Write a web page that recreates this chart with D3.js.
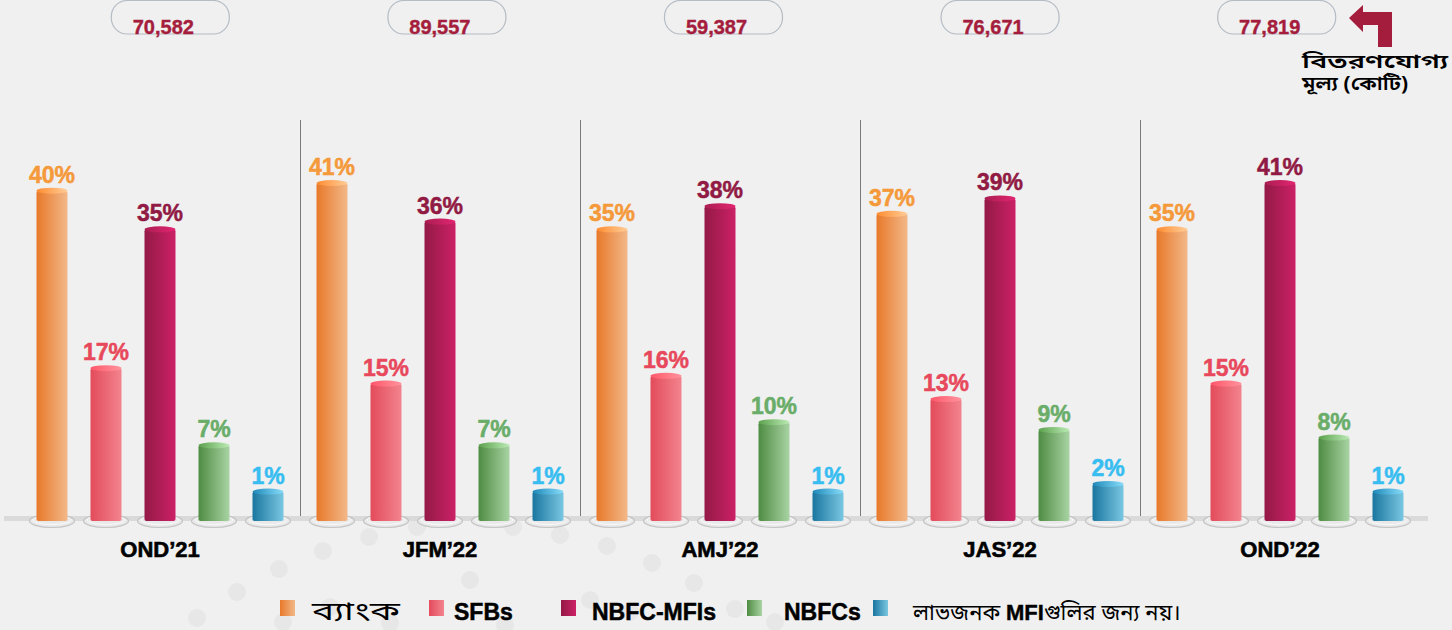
<!DOCTYPE html>
<html>
<head>
<meta charset="utf-8">
<script src="https://cdn.jsdelivr.net/npm/d3@7"></script>
<style>
  html, body { margin: 0; padding: 0; background: #f0f0f0; }
  text { font-family: "Liberation Sans", Arial, sans-serif; }
  .bn { font-family: "Noto Sans Bengali", "Noto Sans", "Lohit Bengali", sans-serif; }
</style>
</head>
<body>
<div id="chart"></div>
<script>
// quarters and disbursement totals (crore)
var categories = ["OND\u201921", "JFM\u201922", "AMJ\u201922", "JAS\u201922", "OND\u201922"];
var totals = ["70,582", "89,557", "59,387", "76,671", "77,819"];

// share of each lender type, %
var seriesNames = ["ব্যাংক", "SFBs", "NBFC-MFIs", "NBFCs", "লাভজনক MFIগুলির জন্য নয়।"];
var bank = [40, 41, 35, 37, 35];
var sfb = [17, 15, 16, 13, 15];
var nbfcMfi = [35, 36, 38, 39, 41];
var nbfc = [7, 7, 10, 9, 8];
var notForProfit = [1, 1, 1, 2, 1];

var series = [bank, sfb, nbfcMfi, nbfc, notForProfit];

var colors = [
  {dark: "#e8792a", light: "#f2b889", label: "#f5993a"},
  {dark: "#e34b5b", light: "#f2848e", label: "#e8485c"},
  {dark: "#931946", light: "#cc2166", label: "#901a43"},
  {dark: "#4f8c43", light: "#a9d3a3", label: "#69ad69"},
  {dark: "#1a76a0", light: "#7ac7e1", label: "#37bdf0"}
];

var width = 1452, height = 630;
var baseY = 521;

var svg = d3.select("#chart").append("svg")
  .attr("width", width)
  .attr("height", height);

var defs = svg.append("defs");
colors.forEach(function(c, i) {
  var g = defs.append("linearGradient").attr("id", "grad" + i)
    .attr("x1", "0%").attr("x2", "100%").attr("y1", "0%").attr("y2", "0%");
  g.append("stop").attr("offset", "0%").attr("stop-color", c.dark);
  g.append("stop").attr("offset", "100%").attr("stop-color", c.light);
  var t = defs.append("linearGradient").attr("id", "cap" + i)
    .attr("x1", "0%").attr("x2", "100%");
  t.append("stop").attr("offset", "0%").attr("stop-color", d3.color(c.dark).brighter(0.4));
  t.append("stop").attr("offset", "100%").attr("stop-color", d3.color(c.light).brighter(0.3));
});

// faint background dots
var dots = [[197,618],[237,592],[279,569],[323,551],[369,537],[417,527],[560,535],[607,546],
  [652,563],[694,583],[735,609],[390,623],[513,527],[283,622],[330,607],[630,612],[590,600],[775,622],[470,580],[505,625]];
svg.append("g").selectAll("circle").data(dots).enter().append("circle")
  .attr("cx", function(d) { return d[0]; })
  .attr("cy", function(d) { return d[1]; })
  .attr("r", 9)
  .style("fill", "#e7e7e7");

// scales
var x0 = d3.scaleBand().domain(categories).range([20, 1420]);
var x1 = d3.scalePoint().domain(d3.range(5)).range([-108, 108]);
var barW = 31;
var y = d3.scaleLinear().domain([-3.2, 41]).range([baseY, 180]);

// separators
svg.append("g").selectAll("line").data(categories.slice(1)).enter().append("line")
  .attr("x1", function(d) { return x0(d) + 0.5; })
  .attr("x2", function(d) { return x0(d) + 0.5; })
  .attr("y1", 120).attr("y2", 517)
  .style("stroke", "#7a7a7a").style("stroke-width", 1);

// baseline floor
svg.append("rect")
  .attr("x", 4).attr("y", 516).attr("width", 1424).attr("height", 5)
  .style("fill", "#dadada");

// top boxes with totals
var xBox = d3.scaleBand().domain(categories).range([32, 1415]);
var boxes = svg.append("g").selectAll("g").data(categories).enter().append("g");
boxes.append("rect")
  .attr("x", function(d) { return xBox(d) + xBox.bandwidth() / 2 - 59; })
  .attr("y", 0.5).attr("width", 118).attr("height", 33.5).attr("rx", 16)
  .style("fill", "none").style("stroke", "#b4bcc4").style("stroke-width", 1.2);
boxes.append("text")
  .attr("x", function(d) { return xBox(d) + xBox.bandwidth() / 2 - 7; })
  .attr("y", 34)
  .attr("text-anchor", "middle")
  .style("font-size", "20px").style("font-weight", "bold").style("fill", "#a51d3d")
  .style("stroke", "#a51d3d").style("stroke-width", 0.4)
  .text(function(d, i) { return totals[i]; });

// bars
var groups = svg.append("g").selectAll("g").data(categories).enter().append("g")
  .attr("transform", function(d) { return "translate(" + (x0(d) + x0.bandwidth() / 2) + ",0)"; });

series.forEach(function(vals, s) {
  var cx = x1(s);
  // plate under bar
  groups.append("ellipse")
    .attr("cx", cx).attr("cy", baseY).attr("rx", 22.5).attr("ry", 6.5)
    .style("fill", "#e9e9e9").style("stroke", "#c4c4c4").style("stroke-width", 1.2);
  groups.append("ellipse")
    .attr("cx", cx).attr("cy", baseY - 1).attr("rx", 19).attr("ry", 4.5)
    .style("fill", "none").style("stroke", "#fafafa").style("stroke-width", 1);
  groups.append("rect")
    .attr("x", cx - barW / 2)
    .attr("y", function(d, i) { return y(vals[i]) + 3; })
    .attr("width", barW)
    .attr("height", function(d, i) { return baseY - y(vals[i]) - 3; })
    .attr("rx", 2)
    .style("fill", "url(#grad" + s + ")");
  groups.append("ellipse")
    .attr("cx", cx)
    .attr("cy", function(d, i) { return y(vals[i]) + 3; })
    .attr("rx", barW / 2).attr("ry", 3)
    .style("fill", "url(#cap" + s + ")");
  groups.append("text")
    .attr("x", cx)
    .attr("y", function(d, i) { return y(vals[i]) - 5; })
    .attr("text-anchor", "middle")
    .style("font-size", "23px").style("font-weight", "bold")
    .style("fill", colors[s].label)
    .style("stroke", colors[s].label).style("stroke-width", 0.5)
    .text(function(d, i) { return vals[i] + "%"; });
});

// category labels
groups.append("text")
  .attr("x", 0).attr("y", 557)
  .attr("text-anchor", "middle")
  .style("font-size", "22px").style("font-weight", "bold").style("fill", "#000")
  .style("stroke", "#000").style("stroke-width", 0.6)
  .text(function(d) { return d; });

// arrow + annotation
svg.append("path")
  .attr("d", "M1349,18 L1363,5 L1363,12 L1392,12 L1392,47 L1378,47 L1378,25 L1363,25 L1363,32 Z")
  .style("fill", "#a51d3d");
var ann = svg.append("g");
ann.append("text").attr("class", "bn").attr("x", 1302).attr("y", 68)
  .attr("textLength", 146).attr("lengthAdjust", "spacingAndGlyphs")
  .style("font-size", "19px").style("font-weight", "600").text("বিতরণযোগ্য");
ann.append("text").attr("class", "bn").attr("x", 1302).attr("y", 90)
  .attr("textLength", 106).attr("lengthAdjust", "spacingAndGlyphs")
  .style("font-size", "19px").style("font-weight", "600").text("মূল্য (কোটি)");

// legend
var legendX = [280, 429, 561, 747, 873];
var textGap = [32, 25, 31, 37, 40];
var legend = svg.append("g");
seriesNames.forEach(function(name, i) {
  legend.append("rect")
    .attr("x", legendX[i]).attr("y", 600).attr("width", 15).attr("height", 16)
    .style("fill", "url(#grad" + i + ")");
  var t = legend.append("text")
    .attr("x", legendX[i] + textGap[i]).attr("y", 620)
    .style("font-size", "22px").style("fill", "#000");
  if (i === 0) {
    t.attr("class", "bn").style("font-size", "26px")
      .attr("textLength", 88).attr("lengthAdjust", "spacingAndGlyphs").text(name);
  } else if (i === 4) {
    t.append("tspan").attr("class", "bn").style("font-size", "22px").text("লাভজনক ");
    t.append("tspan").style("font-weight", "bold").style("font-size", "22px")
      .style("stroke", "#000").style("stroke-width", 0.4).text("MFI");
    t.append("tspan").attr("class", "bn").style("font-size", "22px").text("গুলির জন্য নয়।");
  } else {
    t.style("font-weight", "bold").style("font-size", "23px")
      .style("stroke", "#000").style("stroke-width", 0.5).text(name);
  }
});
</script>
</body>
</html>
